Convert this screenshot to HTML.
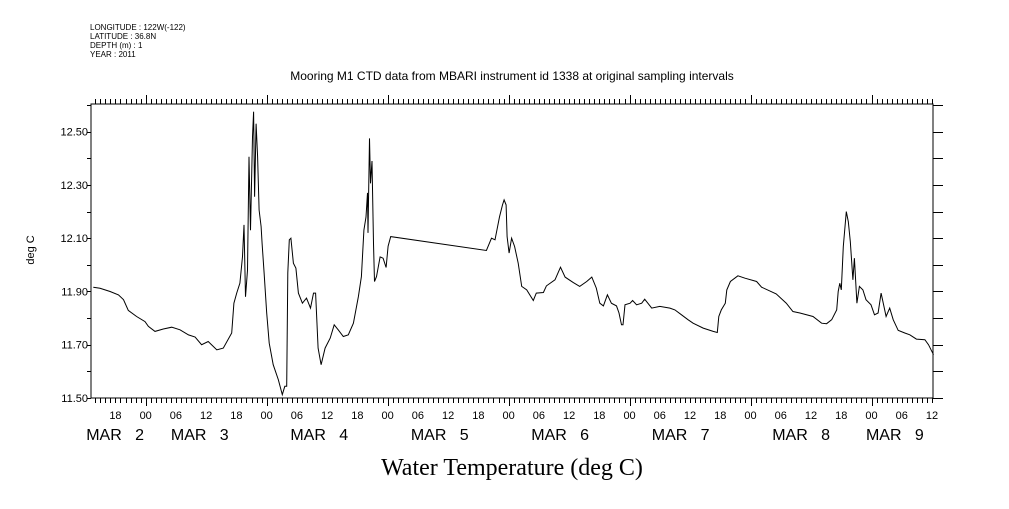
<!DOCTYPE html>
<html><head><meta charset="utf-8">
<style>
html,body{margin:0;padding:0;background:#fff;}
body{width:1009px;height:504px;overflow:hidden;}
svg text{font-family:"Liberation Sans",sans-serif;fill:#000;}
</style></head>
<body>
<svg id="chart" width="1009" height="504" viewBox="0 0 1009 504" xmlns="http://www.w3.org/2000/svg">
<g font-size="8">
<text x="90" y="30">LONGITUDE : 122W(-122)</text>
<text x="90" y="39">LATITUDE : 36.8N</text>
<text x="90" y="48">DEPTH (m) : 1</text>
<text x="90" y="57">YEAR : 2011</text>
</g>
<text x="512" y="80" text-anchor="middle" font-size="12">Mooring M1 CTD data from MBARI instrument id 1338 at original sampling intervals</text>
<text transform="translate(34,250) rotate(-90)" text-anchor="middle" font-size="11">deg C</text>
<text x="512" y="475" text-anchor="middle" font-size="24" style="font-family:'Liberation Serif',serif">Water Temperature (deg C)</text>
<g id="axes"></g>
<g id="plot"></g>
</svg>
<script>
// data: hours since MAR 3 00:00, temperature deg C
const hours=[-10.4,-9.06,-7.07,-5.4,-4.4,-3.44,-1.8,-0.13,0.53,1.85,3.5,5.16,6.8,8.5,9.8,11.1,12.4,14.1,15.4,17.06,17.5,18.05,18.7,19.2,19.5,19.8,20.2,20.5,20.8,21.2,21.4,21.6,21.9,22.2,22.5,22.9,23.1,23.5,24.0,24.5,25.3,26.3,27.1,27.6,27.97,28.2,28.5,28.8,29.3,29.8,30.3,31.1,31.9,32.7,33.3,33.7,34.2,34.8,35.6,36.6,37.4,38.2,39.2,40.2,41.2,42.2,42.8,43.3,43.7,44.0,44.1,44.4,44.6,44.9,45.2,45.4,45.8,46.5,47.1,47.7,48.1,48.6,67.6,68.6,69.3,70.2,70.8,71.1,71.5,71.7,72.1,72.6,73.2,73.9,74.6,75.6,76.9,77.5,78.9,79.5,81.2,82.3,83.2,84.8,86.1,87.5,88.5,89.4,90.1,90.8,91.6,92.4,93.4,93.9,94.4,94.7,95.1,96.1,96.6,97.4,98.4,99.0,100.4,102.0,104.0,105.0,106.3,107.6,108.6,110.6,112.6,113.4,113.7,114.2,115.0,115.3,116.0,117.5,118.9,121.2,122.2,125.1,127.1,128.4,129.8,132.4,134.1,135.1,136.1,137.1,137.4,137.7,138.0,138.4,139.0,139.4,139.8,140.3,140.6,141.1,141.6,142.3,142.9,143.9,144.6,145.3,145.9,146.9,147.6,148.3,149.3,150.6,151.6,152.9,154.6,155.3,156.3];
const temps=[11.916,11.912,11.90,11.887,11.869,11.829,11.806,11.787,11.769,11.75,11.759,11.766,11.756,11.737,11.729,11.70,11.712,11.681,11.6875,11.744,11.856,11.894,11.931,12.031,12.15,11.88,11.98,12.406,12.13,12.48,12.575,12.256,12.53,12.406,12.206,12.144,12.08,11.97,11.819,11.706,11.625,11.569,11.5125,11.544,11.544,11.97,12.094,12.1,12.006,11.9875,11.894,11.856,11.875,11.8375,11.894,11.894,11.6875,11.625,11.6875,11.725,11.775,11.756,11.731,11.7375,11.781,11.881,11.956,12.13,12.18,12.27,12.12,12.475,12.306,12.39,12.08,11.9375,11.956,12.03,12.025,11.99,12.07,12.106,12.054,12.1,12.094,12.18,12.225,12.244,12.225,12.106,12.044,12.1,12.069,12.006,11.919,11.906,11.866,11.894,11.896,11.921,11.944,11.991,11.954,11.934,11.919,11.9375,11.954,11.9125,11.856,11.846,11.8875,11.856,11.846,11.819,11.775,11.775,11.85,11.856,11.866,11.85,11.856,11.871,11.8375,11.844,11.8375,11.831,11.8125,11.794,11.781,11.7625,11.75,11.746,11.806,11.831,11.856,11.906,11.9375,11.959,11.95,11.9375,11.916,11.891,11.856,11.825,11.819,11.806,11.781,11.779,11.794,11.831,11.9,11.931,11.906,12.069,12.2,12.1625,12.0875,11.944,12.025,11.856,11.919,11.906,11.869,11.85,11.8125,11.819,11.894,11.806,11.8375,11.794,11.754,11.744,11.7375,11.721,11.719,11.70,11.6625];
const yTicks=[11.50,11.70,11.90,12.10,12.30,12.50];
const hourLabels=["00","06","12","18"];
const dayLabels=["MAR 2","MAR 3","MAR 4","MAR 5","MAR 6","MAR 7","MAR 8","MAR 9"];
const dayLabelHours=[-11.8,5.0,28.7,52.6,76.5,100.4,124.3,142.9];

const L=91,R=933,T=104,B=398,NS="http://www.w3.org/2000/svg";
const h0=-10.85,h1=156.2,vMin=11.5,vMax=12.604;
const xs=h=>L+(h-h0)/(h1-h0)*(R-L);
const ys=v=>B-(v-vMin)/(vMax-vMin)*(B-T);
const axes=document.getElementById('axes'),plot=document.getElementById('plot');
function mk(tag,attrs,parent){const e=document.createElementNS(NS,tag);for(const k in attrs)e.setAttribute(k,attrs[k]);parent.appendChild(e);return e;}

const frame=mk('rect',{x:L,y:T,width:R-L,height:B-T,fill:'none',stroke:'#000','stroke-width':1,'shape-rendering':'crispEdges'},axes);



let tickPath='';
for(let h=Math.ceil(h0);h<=h1;h++){
  const x=Math.round(xs(h))+0.5;
  const isDay=((h%24)+24)%24===0;
  tickPath+=`M${x},${T}v${isDay?-9:-5}M${x},${B}v${isDay?8:5}`;
}
for(let v=11.5;v<=12.61;v+=0.1){
  const y=Math.round(ys(v))+0.5;
  tickPath+=`M${R},${y}h10M${L},${y}h-4`;
}
const ticks=mk('path',{d:tickPath,stroke:'#000','stroke-width':1,fill:'none','shape-rendering':'crispEdges'},axes);



yTicks.forEach(v=>{
  const t=mk('text',{x:88,y:ys(v)+4,'text-anchor':'end','font-size':11},axes);
  t.textContent=v.toFixed(2);
  
  
});
for(let h=-6;h<=h1;h+=6){
  const t=mk('text',{x:xs(h),y:419,'text-anchor':'middle','font-size':11},axes);
  t.textContent=hourLabels[((h/6)%4+4)%4];
  
  
}
dayLabels.forEach((d,i)=>{
  const t=mk('text',{x:xs(dayLabelHours[i]),y:440,'font-size':16,style:'white-space:pre'},axes);
  t.textContent=d.replace(' ','   ');
  
  
});

const line=mk('polyline',{points:hours.map((h,i)=>xs(h).toFixed(1)+','+ys(temps[i]).toFixed(1)).join(' '),fill:'none',stroke:'#000','stroke-width':1},plot);


</script>
</body></html>
